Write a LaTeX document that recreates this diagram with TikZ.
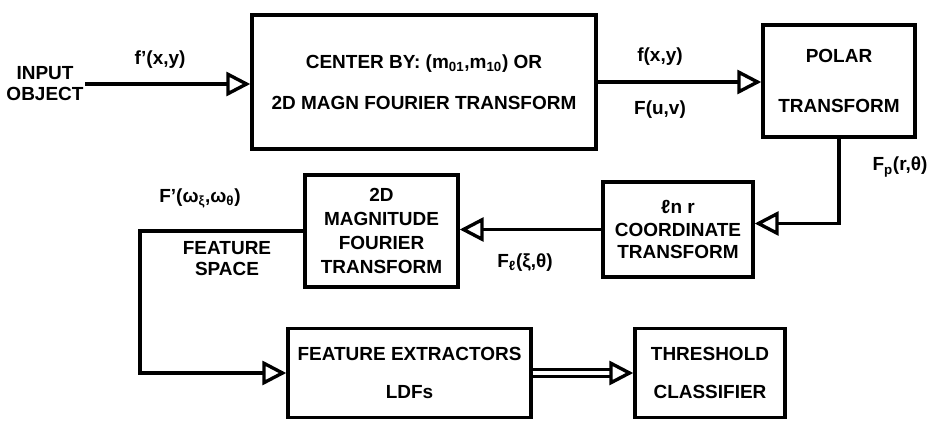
\documentclass[tikz,border=0pt]{standalone}
\usepackage{fontspec}
\setmainfont{Liberation Sans}
\usepackage{tikz}
\usetikzlibrary{arrows.meta, calc}

\begin{document}
\begin{tikzpicture}[x=0.025cm, y=-0.025cm, font=\bfseries\fontsize{13.5}{15}\selectfont,
  blk/.style={draw, line width=2.4pt, align=center, inner sep=0pt},
  flow/.style={line width=2.4pt, -{Triangle[open, length=6mm, width=6mm]}},
  lbl/.style={align=center, inner sep=1pt}]
  \useasboundingbox (0,0) rectangle (950,423);

  % boxes
  \node[blk, minimum width=8.6cm, minimum height=3.35cm] (ctr) at (424,82)
    {CENTER BY: (m\textsubscript{01},m\textsubscript{10}) OR\\[14pt] 2D MAGN FOURIER TRANSFORM};
  \node[blk, minimum width=3.8cm, minimum height=2.8cm] (pol) at (839,81)
    {POLAR\\[20pt] TRANSFORM};
  \node[blk, minimum width=3.75cm, minimum height=2.375cm] (lnr) at (678,229.5)
    {ℓn r\\[1pt] COORDINATE\\[1pt] TRANSFORM};
  \node[blk, minimum width=3.825cm, minimum height=2.8cm] (mag) at (381.5,231)
    {2D\\[2pt] MAGNITUDE\\[2pt] FOURIER\\[2pt] TRANSFORM};
  \node[blk, minimum width=6.075cm, minimum height=2.225cm] (fext) at (409.5,373)
    {FEATURE EXTRACTORS\\[12pt] LDFs};
  \node[blk, minimum width=3.75cm, minimum height=2.225cm] (thr) at (710,373)
    {THRESHOLD\\[12pt] CLASSIFIER};

  % labels
  \node[lbl] (inp) at (45,84) {INPUT\\OBJECT};
  \node[lbl] (lfin) at (160,60) {f'(x,y)};
  \node[lbl] (lfxy) at (660,57) {f(x,y)};
  \node[lbl] (lfuv) at (660,110) {F(u,v)};
  \node[lbl] (lfp) at (900,167) {F\textsubscript{p}(r,θ)};
  \node[lbl] (lfl) at (525,263) {F\textsubscript{ℓ}(ξ,θ)};
  \node[lbl] (lfw) at (200,198) {F'(ω\textsubscript{ξ},ω\textsubscript{θ})};
  \node[lbl] (lfs) at (227,259) {FEATURE\\SPACE};

  \coordinate (fs) at (140,232);

  % connectors
  \draw[flow] (inp.east) -- (inp.east -| ctr.west);
  \draw[flow] (ctr.east) -- (ctr.east -| pol.west);
  \draw[flow] (pol.south) |- ([yshift=0.15cm]lnr.east);
  \draw[flow] (lnr.west) -- (lnr.west -| mag.east);
  \draw[flow] (mag.west) -- (mag.west -| fs) |- (fext.west);
  \draw[flow, double, double distance=3pt] (fext.east) -- (thr.west);
\end{tikzpicture}
\end{document}
